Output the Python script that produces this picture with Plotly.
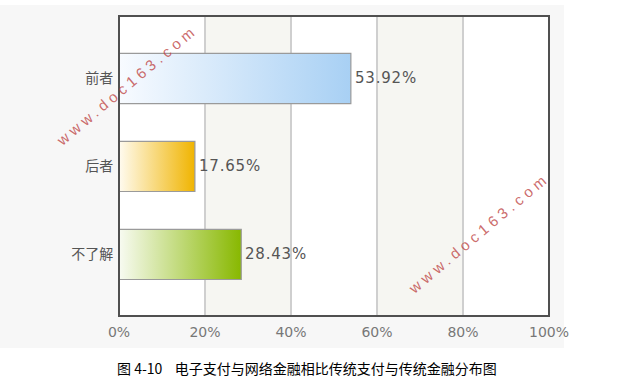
import plotly.graph_objects as go

categories = ["前者", "后者", "不了解"]
values = [53.92, 17.65, 28.43]
value_labels = ["53.92%", "17.65%", "28.43%"]
tick_vals = [0, 20, 40, 60, 80, 100]
tick_labels = ["0%", "20%", "40%", "60%", "80%", "100%"]
bar_colors = [
    [[0, "#f8fbff"], [1, "#a8d0f4"]],
    [[0, "#fffbf0"], [1, "#f0b400"]],
    [[0, "#f8fbf2"], [1, "#88b800"]],
]
caption = "图 4-10    电子支付与网络金融相比传统支付与传统金融分布图"
watermark = "www.doc163.com"

half = 0.285
fig = go.Figure()
for i, (cat, v) in enumerate(zip(categories, values)):
    fig.add_trace(go.Scatter(
        x=[0, v, v, 0, 0],
        y=[i - half, i - half, i + half, i + half, i - half],
        mode="lines", fill="toself",
        line=dict(color="#9a9a9a", width=1.2),
        fillgradient=dict(type="horizontal", colorscale=bar_colors[i]),
        hoverinfo="skip", showlegend=False,
    ))

shapes = [
    dict(type="rect", xref="paper", yref="paper", x0=-0.33, x1=1.035, y0=-0.107, y1=1.037,
         fillcolor="#f7f7f7", line=dict(width=0), layer="below"),
    dict(type="rect", xref="x", yref="paper", x0=0, x1=100, y0=0, y1=1,
         fillcolor="white", line=dict(width=0), layer="below"),
]
for a, b in [(20, 40), (60, 80)]:
    shapes.append(dict(type="rect", xref="x", yref="paper", x0=a, x1=b, y0=0, y1=1,
                       fillcolor="#f6f6f2", line=dict(width=0), layer="below"))
shapes.append(dict(type="rect", xref="paper", yref="paper", x0=0, x1=1, y0=0, y1=1,
                   line=dict(color="#505050", width=2), layer="above"))

annotations = []
for i, (v, lab) in enumerate(zip(values, value_labels)):
    annotations.append(dict(
        text='<span style="letter-spacing:0.8px">' + lab + "</span>",
        x=v, y=i, xref="x", yref="y", showarrow=False,
        xanchor="left", yanchor="middle", xshift=2,
        font=dict(family="DejaVu Sans", size=15, color="#555555"),
    ))
annotations.append(dict(text=caption, xref="paper", yref="paper",
                        x=(307 - 119) / 430, y=-0.173,
                        showarrow=False, xanchor="center", yanchor="middle",
                        font=dict(family="Noto Sans CJK SC", size=14, color="#000000")))
for cx, cy in [(126, 85), (478, 233)]:
    annotations.append(dict(
        text='<span style="letter-spacing:4.3px">' + watermark + "</span>",
        xref="paper", yref="paper",
        x=(cx - 119) / 430, y=(316 - cy) / 300,
        showarrow=False, textangle=-40, xanchor="center", yanchor="middle",
        font=dict(family="Liberation Sans", size=15, color="rgba(190,70,70,0.8)"),
    ))

fig.update_layout(
    width=628, height=392,
    margin=dict(l=119, r=79, t=16, b=76),
    paper_bgcolor="white", plot_bgcolor="white",
    shapes=shapes, annotations=annotations,
    xaxis=dict(range=[0, 100], tickvals=tick_vals, ticktext=tick_labels,
               showgrid=True, gridcolor="#cfcfcf", gridwidth=1.5, zeroline=False,
               ticks="outside", ticklen=3, tickcolor="rgba(0,0,0,0)",
               tickfont=dict(family="DejaVu Sans", size=14, color="#777777"),
               fixedrange=True),
    yaxis=dict(range=[2.70, -0.71], tickvals=list(range(len(categories))),
               ticktext=categories, showgrid=False, zeroline=False,
               ticks="outside", ticklen=2, tickcolor="rgba(0,0,0,0)",
               tickfont=dict(family="Noto Sans CJK SC", size=14, color="#555555"),
               fixedrange=True),
)

fig.write_html("out.html", config={"displayModeBar": False})
